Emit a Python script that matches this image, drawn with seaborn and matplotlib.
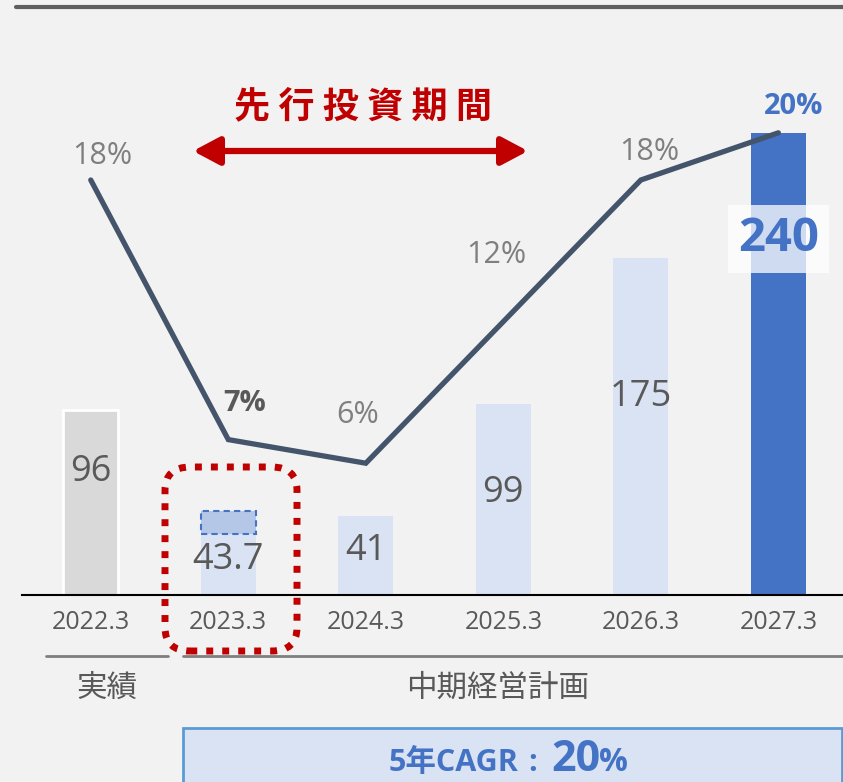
import numpy as np
import matplotlib.pyplot as plt
import seaborn as sns
from matplotlib.patches import FancyBboxPatch, FancyArrowPatch, Rectangle
from matplotlib.lines import Line2D

# data
years = ['2022.3', '2023.3', '2024.3', '2025.3', '2026.3', '2027.3']
revenue = [96, 43.7, 41, 99, 175, 240]
revenue_labels = ['96', '43.7', '41', '99', '175', '240']
margin = [18, 7, 6, 12, 18, 20]
margin_labels = ['18%', '7%', '6%', '12%', '18%', '20%']
upfront_part = 12.0   # dashed highlighted part on top of the 2023.3 bar

# layout (label placement, not data)
bar_label_y = [64, 18, 23, 53, 103, 185]
pct_offsets = [(8, 17), (12, 26), (-6, 35), (-5, 48), (6, 20), (11, 19)]

W, H = 843, 782
BG = '#F2F2F2'
GRAY_TXT = '#595959'
BLUE = '#4472C4'
LIGHT = '#DAE3F3'
RED = '#C00000'

sns.set_style('white')
plt.rcParams['font.family'] = ['Open Sans', 'Noto Sans CJK JP', 'DejaVu Sans']
plt.rcParams['axes.facecolor'] = BG


def fx(px):
    return px / W


def fy(py):
    return 1 - py / H


fig = plt.figure(figsize=(W / 100, H / 100), dpi=100, facecolor=BG)
ax = fig.add_axes([fx(22), fy(595), fx(843) - fx(22), 595 / H])
ax.set_facecolor(BG)

bar_colors = ['#D9D9D9'] + [LIGHT] * 4 + [BLUE]
sns.barplot(x=years, y=revenue, hue=years, palette=bar_colors, legend=False,
            width=0.4, saturation=1, linewidth=0, ax=ax)
for p in ax.patches:
    p.set_edgecolor('none')
ax.patches[0].set_edgecolor('white')
ax.patches[0].set_linewidth(2)

# highlighted top part of the 2023.3 bar
ax.bar(1, upfront_part, bottom=revenue[1] - upfront_part, width=0.4,
       facecolor='#B4C7E7', edgecolor=BLUE, linestyle=(0, (3, 2)), linewidth=1.5)

for i, (v, lab, ly) in enumerate(zip(revenue, revenue_labels, bar_label_y)):
    if i == len(revenue) - 1:
        ax.text(i, ly, lab, ha='center', va='center', fontsize=34, fontweight='bold',
                color=BLUE, bbox=dict(boxstyle='square,pad=0.22', fc='white', ec='none', alpha=0.75))
    else:
        ax.text(i, ly, lab, ha='center', va='center', fontsize=26, color=GRAY_TXT)

ax.set_xlim(-0.5, 5.47)
ax.set_ylim(0, 595 / 1.925)
for s in ['top', 'left', 'right']:
    ax.spines[s].set_visible(False)
ax.spines['bottom'].set_color('black')
ax.spines['bottom'].set_linewidth(1.5)
ax.set_yticks([])
ax.tick_params(axis='x', length=0, pad=11, labelsize=18, labelcolor=GRAY_TXT)
ax.set_xlabel('')
ax.set_ylabel('')

# margin line on a second axis
ax2 = ax.twinx()
sns.lineplot(x=np.arange(len(margin)), y=margin, ax=ax2, color='#44546A',
             linewidth=3.8, solid_capstyle='round', solid_joinstyle='miter')
ax2.set_ylim(18 - (595 - 180) / 23.6, 18 + 180 / 23.6)
ax2.set_yticks([])
ax2.set_ylabel('')
for s in ax2.spines.values():
    s.set_visible(False)
for i, (v, lab, off) in enumerate(zip(margin, margin_labels, pct_offsets)):
    bold = i in (1, 5)
    col = BLUE if i == 5 else ('#595959' if i == 1 else '#7F7F7F')
    ax2.annotate(lab, (i, v), xytext=off, textcoords='offset points', ha='center',
                 va='center', fontsize=22 if not bold else 21,
                 fontweight='bold' if bold else 'normal', color=col)

# top rule
fig.add_artist(Line2D([fx(16), 1], [fy(7), fy(7)], color='#5F5F5F', lw=3,
                      transform=fig.transFigure))

# upfront investment period
fig.text(fx(363), fy(107), '先 行 投 資 期 間', ha='center', va='center', fontsize=26,
         fontweight='bold', color=RED, family=['Noto Sans CJK JP'])
fig.add_artist(FancyArrowPatch((fx(193), fy(151)), (fx(528), fy(151)),
                               transform=fig.transFigure,
                               arrowstyle='<|-|>,head_length=1.6,head_width=0.85',
                               mutation_scale=10, lw=4.5, color=RED,
                               shrinkA=0, shrinkB=0))

# dotted frame around 2023.3
fig.add_artist(FancyBboxPatch((fx(165), fy(651)), fx(297) - fx(165), (651 - 467) / H,
                              boxstyle='round,pad=0,rounding_size=0.03',
                              transform=fig.transFigure, fill=False, ec=RED, lw=5,
                              linestyle=(0, (1, 1.3)), capstyle='butt', zorder=5))

# period underlines and labels
fig.add_artist(Line2D([fx(46), fx(168)], [fy(656), fy(656)], color='#7F7F7F', lw=2,
                      transform=fig.transFigure))
fig.add_artist(Line2D([fx(183), 1], [fy(656), fy(656)], color='#7F7F7F', lw=2,
                      transform=fig.transFigure))
fig.text(fx(107), fy(689), '実績', ha='center', va='center', fontsize=22, color=GRAY_TXT)
fig.text(fx(498), fy(689), '中期経営計画', ha='center', va='center', fontsize=22, color=GRAY_TXT)

# CAGR box
fig.add_artist(Rectangle((fx(183), -0.02), fx(842) - fx(183), fy(728) + 0.02,
                         transform=fig.transFigure, fc=LIGHT, ec='#5B9BD5', lw=2))
base = fy(771)
fig.text(fx(518), base, '5年CAGR', ha='right', va='baseline', fontsize=22,
         fontweight='bold', color=BLUE)
fig.text(fx(533), base, ':', ha='center', va='baseline', fontsize=22,
         fontweight='bold', color=BLUE)
fig.text(fx(551), base, '20', ha='left', va='baseline', fontsize=31,
         fontweight='bold', color=BLUE)
fig.text(fx(599), base, '%', ha='left', va='baseline', fontsize=23,
         fontweight='bold', color=BLUE)

fig.savefig('out.png', dpi=100, facecolor=BG)
